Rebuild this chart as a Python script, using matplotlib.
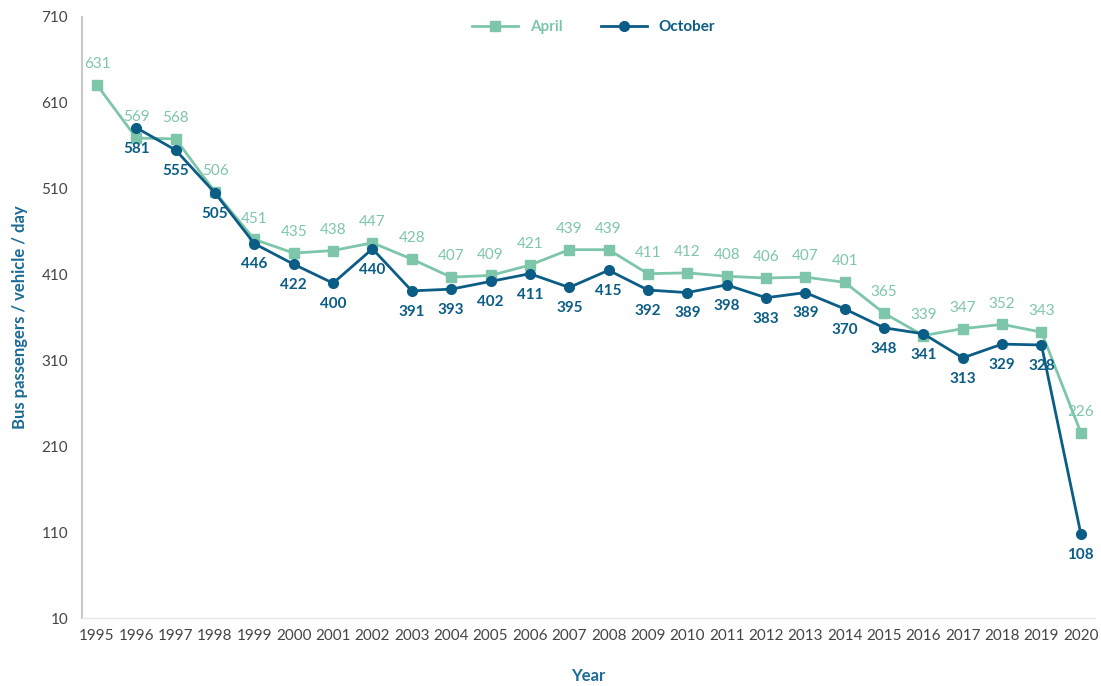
import numpy as np
import matplotlib.pyplot as plt

# values
years = list(range(1995, 2021))
april = [631, 569, 568, 506, 451, 435, 438, 447, 428, 407, 409, 421, 439,
         439, 411, 412, 408, 406, 407, 401, 365, 339, 347, 352, 343, 226]
october = [np.nan, 581, 555, 505, 446, 422, 400, 440, 391, 393, 402, 411, 395,
           415, 392, 389, 398, 383, 389, 370, 348, 341, 313, 329, 328, 108]

green = "#7dc6aa"
blue = "#0b5d85"
title_blue = "#1a6b96"

plt.rcParams['font.family'] = ['Lato', 'DejaVu Sans']

fig = plt.figure(figsize=(11.01, 6.86), dpi=100)
ax = fig.add_axes([82 / 1101, 1 - 618 / 686, (1095 - 82) / 1101, (618 - 17) / 686])

ax.plot(years, april, color=green, lw=2, marker='s', ms=7, label="April", zorder=3)
ax.plot(years, october, color=blue, lw=2, marker='o', ms=7, label="October", zorder=4)

for x, v in zip(years, april):
    ax.annotate(str(v), (x, v), xytext=(0, 15), textcoords='offset points',
                ha='center', va='center', color=green, fontsize=11)
for x, v in zip(years, october):
    if np.isnan(v):
        continue
    ax.annotate(str(int(v)), (x, v), xytext=(0, -15), textcoords='offset points',
                ha='center', va='center', color=blue, fontsize=11, fontweight='bold')

ax.set_xlim(1994.62, 2020.36)
ax.set_ylim(10, 710)
ax.set_yticks(range(10, 711, 100))
ax.set_xticks(years)
ax.tick_params(length=0, labelsize=11, labelcolor="#444444")
ax.tick_params(axis='x', pad=8)
ax.tick_params(axis='y', pad=10)

for s in ['top', 'right']:
    ax.spines[s].set_visible(False)
ax.spines['left'].set_color("#c8c8c8")
ax.spines['left'].set_linewidth(1.5)
ax.spines['bottom'].set_color("#e6e6e6")
ax.spines['bottom'].set_linewidth(1)

ax.set_ylabel("Bus passengers / vehicle / day", color=title_blue, fontsize=12,
              fontweight='bold')
ax.yaxis.set_label_coords(-0.053, 0.5)
ax.set_xlabel("Year", color=title_blue, fontsize=12, fontweight='bold', labelpad=18)

leg = ax.legend(loc='upper center', bbox_to_anchor=(0.505, 1.018), ncol=2, frameon=False,
                fontsize=11, columnspacing=2.5, handlelength=3)
for t, c in zip(leg.get_texts(), [green, blue]):
    t.set_color(c)
    t.set_fontweight('bold')

fig.savefig("out.png", dpi=100)
